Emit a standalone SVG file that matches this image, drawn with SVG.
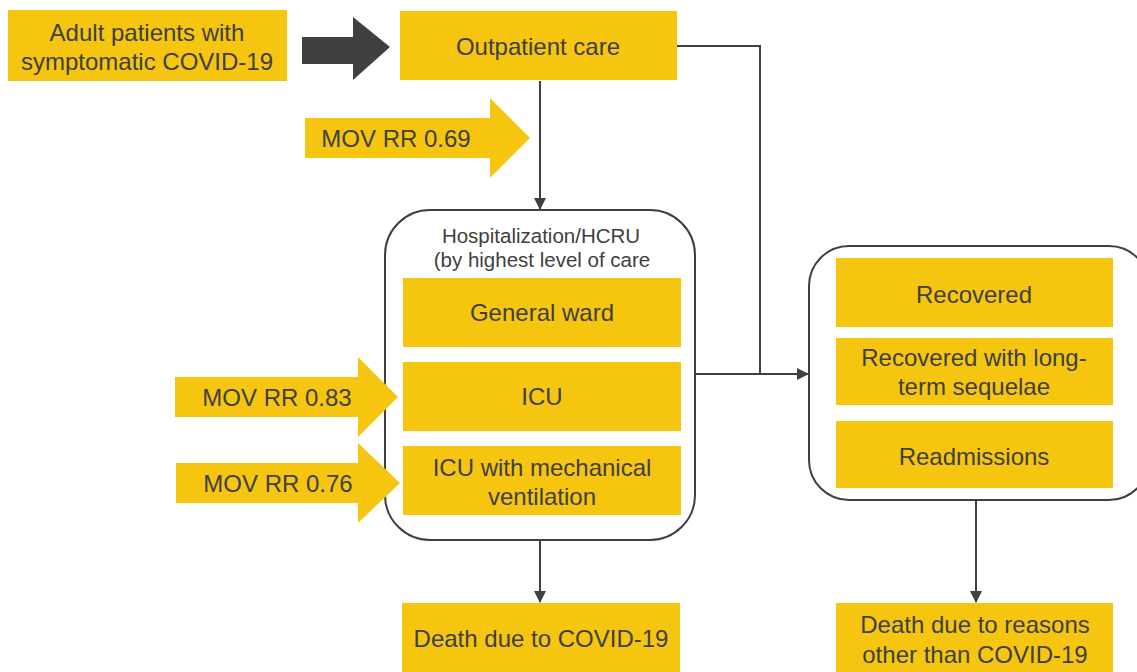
<svg xmlns="http://www.w3.org/2000/svg" width="1137" height="672" viewBox="0 0 1137 672">
<style>
.box{fill:#F5C510;}
.t{font-family:"Liberation Sans",Arial,sans-serif;font-size:24px;fill:#404040;text-anchor:middle;dominant-baseline:central;}
.ts{font-family:"Liberation Sans",Arial,sans-serif;font-size:20.5px;fill:#404040;text-anchor:middle;dominant-baseline:central;}
.grp{fill:#fff;stroke:#404040;stroke-width:2;}
.ln{fill:none;stroke:#404040;stroke-width:2;}
</style>
<defs>
<marker id="ah" markerWidth="12" markerHeight="12" refX="11" refY="6" orient="auto" markerUnits="userSpaceOnUse">
<path d="M0,0 L12,6 L0,12 z" fill="#404040"/>
</marker>
</defs>
<rect width="1137" height="672" fill="#fff"/>
<g id="connectors">
<path class="ln" d="M540,81 V209" marker-end="url(#ah)"/>
<path class="ln" d="M677,46 H760 V374"/>
<path class="ln" d="M695,374 H808" marker-end="url(#ah)"/>
<path class="ln" d="M540,540 V602" marker-end="url(#ah)"/>
<path class="ln" d="M976,500 V602" marker-end="url(#ah)"/>
<path d="M302,37 H353 V17 L390,47 L353,80 V64 H302 z" fill="#404040"/>
</g>
<g id="adult"><rect class="box" x="8" y="10" width="279" height="71"/><text class="t" x="147" y="32">Adult patients with</text><text class="t" x="147" y="61">symptomatic COVID-19</text></g>
<g id="outpatient"><rect class="box" x="400" y="11" width="277" height="69"/><text class="t" x="538" y="46">Outpatient care</text></g>
<g id="mov069"><path class="box" d="M305,118 H490 V98 L530,138 L490,178 V158 H305 z"/><text class="t" x="396" y="138">MOV RR 0.69</text></g>
<g id="hospitalization"><rect class="grp" x="385" y="210" width="310" height="330" rx="45"/><text class="ts" x="541" y="235">Hospitalization/HCRU</text><text class="ts" x="542" y="259">(by highest  level  of care</text></g>
<g id="general"><rect class="box" x="403" y="278" width="278" height="69"/><text class="t" x="542" y="312">General ward</text></g>
<g id="icu"><rect class="box" x="403" y="362" width="278" height="69"/><text class="t" x="542" y="396">ICU</text></g>
<g id="icumv"><rect class="box" x="403" y="446" width="278" height="69"/><text class="t" x="542" y="467">ICU with mechanical</text><text class="t" x="542" y="496">ventilation</text></g>
<g id="mov083"><path class="box" d="M175,377 H358 V357 L398,397 L358,437 V417 H175 z"/><text class="t" x="277" y="397">MOV RR 0.83</text></g>
<g id="mov076"><path class="box" d="M176,463 H358 V443 L400,483 L358,523 V503 H176 z"/><text class="t" x="278" y="483">MOV RR 0.76</text></g>
<g id="outcomes"><rect class="grp" x="809" y="246" width="340" height="254" rx="40"/></g>
<g id="recovered"><rect class="box" x="836" y="258" width="277" height="69"/><text class="t" x="974" y="294">Recovered</text></g>
<g id="sequelae"><rect class="box" x="836" y="338" width="277" height="67"/><text class="t" x="974" y="357">Recovered with long-</text><text class="t" x="974" y="386">term sequelae</text></g>
<g id="readmissions"><rect class="box" x="836" y="421" width="277" height="67"/><text class="t" x="974" y="456">Readmissions</text></g>
<g id="deathcovid"><rect class="box" x="402" y="603" width="278" height="72"/><text class="t" x="541" y="638">Death due to COVID-19</text></g>
<g id="deathother"><rect class="box" x="836" y="603" width="277" height="72"/><text class="t" x="975" y="624">Death due to reasons</text><text class="t" x="975" y="654">other than COVID-19</text></g>
</svg>
